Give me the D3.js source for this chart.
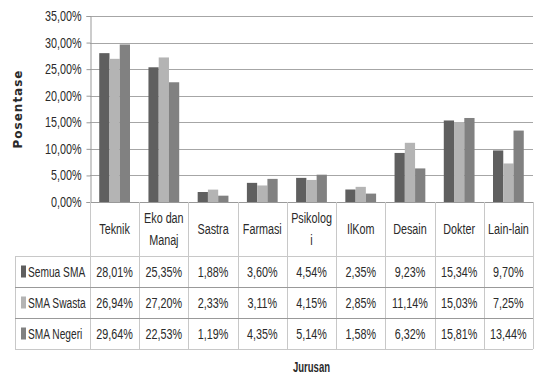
<!doctype html>
<html>
<head>
<meta charset="utf-8">
<title>Jurusan</title>
<script src="https://cdnjs.cloudflare.com/ajax/libs/d3/7.8.5/d3.min.js"></script>
<style>
  body { margin: 0; background: #fff; }
  svg text { font-family: "Liberation Sans", Arial, sans-serif; fill: #2a2a2a; }
</style>
</head>
<body>
<div id="chart"></div>
<script>
// data
const categories = ["Teknik", "Eko dan Manaj", "Sastra", "Farmasi", "Psikologi", "IlKom", "Desain", "Dokter", "Lain-lain"];
const catLabels = [["Teknik"], ["Eko dan", "Manaj"], ["Sastra"], ["Farmasi"], ["Psikolog", "i"], ["IlKom"], ["Desain"], ["Dokter"], ["Lain-lain"]];
const seriesNames = ["Semua SMA", "SMA Swasta", "SMA Negeri"];
const semua = [28.01, 25.35, 1.88, 3.60, 4.54, 2.35, 9.23, 15.34, 9.70];
const swasta = [26.94, 27.20, 2.33, 3.11, 4.15, 2.85, 11.14, 15.03, 7.25];
const negeri = [29.64, 22.53, 1.19, 4.35, 5.14, 1.58, 6.32, 15.81, 13.44];
const yTicks = [0, 5, 10, 15, 20, 25, 30, 35];

const seriesValues = [semua, swasta, negeri];
const colors = ["#5f5f5f", "#b4b4b4", "#818181"];

const W = 534, H = 374;
const mLeft = 90, mRight = 533, mTop = 16, mBottom = 202;
const rowY = [202, 256, 287, 318, 349];
const legendLeft = 15;
const SX = 0.72; // horizontal squeeze, the source font is narrow

const loc = d3.formatLocale({decimal: ",", thousands: ".", grouping: [3], currency: ["", ""]});
const fmt = v => loc.format(".2f")(v) + "%";

const svg = d3.select("#chart").append("svg")
  .attr("width", W).attr("height", H);

// narrow text helper
function label(g, px, py, str, opt) {
  opt = opt || {};
  return g.append("text")
    .attr("transform", `translate(${px},${py}) scale(${opt.sx || SX},1)`)
    .attr("dy", "0.35em")
    .attr("text-anchor", opt.anchor || "middle")
    .attr("font-size", opt.size || 15)
    .attr("font-weight", opt.weight || "normal")
    .text(str);
}

const x = d3.scaleBand().domain(categories).range([mLeft, mRight]);
const xs = d3.scaleBand().domain(seriesNames).range([0, x.bandwidth()]).paddingOuter(0.9);
const y = d3.scaleLinear().domain([0, 35]).range([mBottom, mTop]);

// gridlines
svg.append("g").selectAll("line").data(yTicks.slice(1)).join("line")
  .attr("x1", mLeft).attr("x2", mRight)
  .attr("y1", d => Math.round(y(d)) + 0.5).attr("y2", d => Math.round(y(d)) + 0.5)
  .attr("stroke", "#a6a6a6").attr("stroke-width", 1);

// y axis
const yAxis = svg.append("g").attr("transform", `translate(${mLeft + 0.5},0)`)
  .call(d3.axisLeft(y).tickValues(yTicks).tickFormat(fmt).tickSize(4).tickPadding(4));
yAxis.select(".domain").attr("stroke", "#999");
yAxis.selectAll(".tick line").attr("stroke", "#999");
yAxis.selectAll(".tick text").attr("font-size", 14).attr("fill", "#333")
  .style("font-family", "'Liberation Sans', Arial, sans-serif")
  .attr("x", -9 / 0.77).attr("transform", "scale(0.77,1)");

// bars
seriesNames.forEach((s, si) => {
  svg.append("g").selectAll("rect").data(seriesValues[si]).join("rect")
    .attr("x", (d, i) => x(categories[i]) + xs(s))
    .attr("width", xs.bandwidth())
    .attr("y", d => y(d))
    .attr("height", d => y(0) - y(d))
    .attr("fill", colors[si]);
});

// x baseline
svg.append("line").attr("x1", mLeft).attr("x2", mRight)
  .attr("y1", mBottom + 0.5).attr("y2", mBottom + 0.5).attr("stroke", "#999");

// table
const tbl = svg.append("g");
const bounds = categories.map(c => x(c)).concat([mRight]);
tbl.selectAll("line.v").data(bounds).join("line")
  .attr("x1", d => Math.round(d) + 0.5).attr("x2", d => Math.round(d) + 0.5)
  .attr("y1", rowY[0]).attr("y2", rowY[4])
  .attr("stroke", "#c8c8c8");
tbl.append("line").attr("x1", legendLeft + 0.5).attr("x2", legendLeft + 0.5)
  .attr("y1", rowY[1]).attr("y2", rowY[4]).attr("stroke", "#c8c8c8");
tbl.selectAll("line.h").data(rowY.slice(1)).join("line")
  .attr("x1", legendLeft).attr("x2", mRight)
  .attr("y1", d => d + 0.5).attr("y2", d => d + 0.5)
  .attr("stroke", (d, i) => (i === 0 || i === 3) ? "#c8c8c8" : "#999");

// header labels
categories.forEach((c, i) => {
  const lines = catLabels[i];
  const cx = x(c) + x.bandwidth() / 2;
  const cy = (rowY[0] + rowY[1]) / 2;
  lines.forEach((t, k) => {
    label(tbl, cx, cy + (k - (lines.length - 1) / 2) * 22, t);
  });
});

// rows: legend + values
seriesNames.forEach((s, si) => {
  const cy = (rowY[si + 1] + rowY[si + 2]) / 2;
  tbl.append("rect").attr("x", legendLeft + 6).attr("y", cy - 6)
    .attr("width", 5).attr("height", 12).attr("fill", colors[si]);
  label(tbl, legendLeft + 13, cy, s, {anchor: "start", sx: 0.68});
  seriesValues[si].forEach((v, i) => {
    label(tbl, x(categories[i]) + x.bandwidth() / 2, cy, fmt(v));
  });
});

// axis titles
svg.append("text")
  .attr("transform", `translate(22,${(mTop + mBottom) / 2}) rotate(-90)`)
  .attr("text-anchor", "middle").attr("font-size", 12).attr("font-weight", "bold")
  .style("font-family", "'DejaVu Sans', sans-serif").attr("letter-spacing", 1)
  .text("Posentase");

label(svg, (mLeft + mRight) / 2, 367, "Jurusan", {weight: "bold", size: 14, sx: 0.68});
</script>
</body>
</html>
